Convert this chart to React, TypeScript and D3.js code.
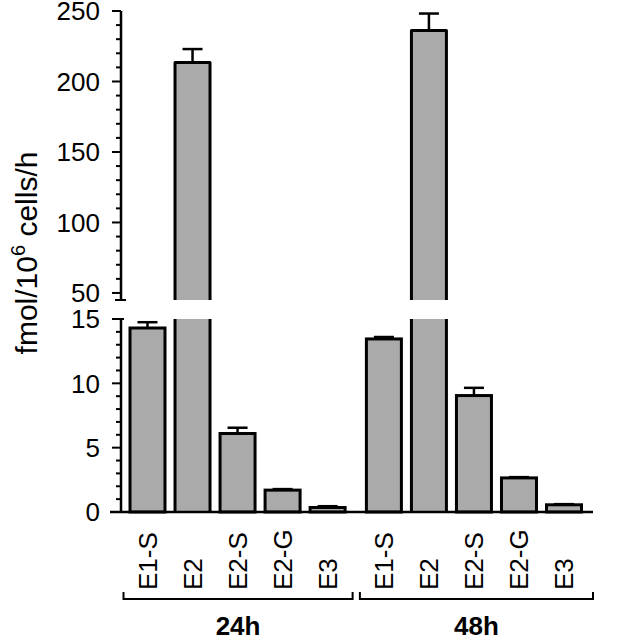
import * as d3 from "d3";
import React, { useRef, useEffect } from "react";

const categories = ["E1-S", "E2", "E2-S", "E2-G", "E3"];
const groups = ["24h", "48h"];
const values24 = [14.3, 213.5, 6.1, 1.7, 0.35];
const errors24 = [0.45, 9.5, 0.45, 0.08, 0.1];
const values48 = [13.45, 236.2, 9.05, 2.65, 0.56];
const errors48 = [0.15, 12, 0.6, 0.06, 0.05];
const upperTicks = [50, 100, 150, 200, 250];
const lowerTicks = [0, 5, 10, 15];

const WIDTH = 633;
const HEIGHT = 639;
const FONT = "'Liberation Sans', Arial, sans-serif";

const App = () => {
	const svgRef = useRef(null);

	useEffect(() => {
		const svg = d3.select(svgRef.current);
		svg.selectAll("*").remove();

		const axisX = 121;
		const breakLimit = 15; // values above this go to the upper panel

		const yLow = d3.scaleLinear().domain([0, 15]).range([512, 319]);
		const yHigh = d3.scaleLinear().domain([45, 250]).range([300, 11]);

		// bar slots, second group shifted a bit to the right
		const xPos = d3.scaleLinear().domain([0, 9.25]).range([147.5, 564]);
		const barW = 35;
		const capW = 20;

		const data = [];
		groups.forEach((g, gi) => {
			const vals = gi === 0 ? values24 : values48;
			const errs = gi === 0 ? errors24 : errors48;
			categories.forEach((c, ci) => {
				data.push({ group: g, cat: c, value: vals[ci], err: errs[ci], slot: gi * 5 + ci + gi * 0.25 });
			});
		});

		// y axes
		const drawAxis = (scale, ticks, minorStep) => {
			const [d0, d1] = scale.domain();
			const ax = svg.append("g");
			ax.append("line")
				.attr("x1", axisX).attr("x2", axisX)
				.attr("y1", scale(d0)).attr("y2", scale(d1))
				.attr("stroke", "#000").attr("stroke-width", 2.5);
			d3.range(Math.ceil(d0 / minorStep) * minorStep, d1 + 0.001, minorStep).forEach((v) => {
				const major = ticks.includes(v);
				ax.append("line")
					.attr("x1", axisX - (major ? 9 : 5)).attr("x2", axisX)
					.attr("y1", scale(v)).attr("y2", scale(v))
					.attr("stroke", "#000").attr("stroke-width", 2);
			});
			ticks.forEach((v) => {
				ax.append("text")
					.attr("x", axisX - 21).attr("y", scale(v))
					.attr("dy", "0.36em")
					.attr("text-anchor", "end")
					.attr("font-family", FONT).attr("font-size", 26)
					.text(v);
			});
		};
		drawAxis(yHigh, upperTicks, 10);
		drawAxis(yLow, lowerTicks, 1);

		// small caps at the break
		svg.append("line")
			.attr("x1", axisX - 6).attr("x2", axisX + 5)
			.attr("y1", yHigh(45)).attr("y2", yHigh(45))
			.attr("stroke", "#000").attr("stroke-width", 2);
		svg.append("line")
			.attr("x1", axisX).attr("x2", axisX + 3)
			.attr("y1", yLow(15)).attr("y2", yLow(15))
			.attr("stroke", "#000").attr("stroke-width", 2);

		// bars
		const bars = svg.append("g");
		data.forEach((d) => {
			const cx = xPos(d.slot);
			const x0 = cx - barW / 2;
			const x1 = cx + barW / 2;
			if (d.value <= breakLimit) {
				bars.append("rect")
					.attr("x", x0).attr("y", yLow(d.value))
					.attr("width", barW).attr("height", yLow(0) - yLow(d.value))
					.attr("fill", "#aaaaaa").attr("stroke", "#000").attr("stroke-width", 3);
			} else {
				bars.append("rect")
					.attr("x", x0).attr("y", yLow(15))
					.attr("width", barW).attr("height", yLow(0) - yLow(15))
					.attr("fill", "#aaaaaa");
				bars.append("path")
					.attr("d", `M${x0},${yLow(0)}V${yLow(15)}M${x1},${yLow(0)}V${yLow(15)}`)
					.attr("fill", "none").attr("stroke", "#000").attr("stroke-width", 3);
				bars.append("rect")
					.attr("x", x0).attr("y", yHigh(d.value))
					.attr("width", barW).attr("height", yHigh(45) - yHigh(d.value))
					.attr("fill", "#aaaaaa");
				bars.append("path")
					.attr("d", `M${x0},${yHigh(45)}V${yHigh(d.value)}H${x1}V${yHigh(45)}`)
					.attr("fill", "none").attr("stroke", "#000").attr("stroke-width", 3).attr("stroke-linejoin", "round");
			}
			// error bar
			const sc = d.value <= breakLimit ? yLow : yHigh;
			const yTop = sc(d.value + d.err);
			bars.append("line")
				.attr("x1", cx).attr("x2", cx)
				.attr("y1", sc(d.value)).attr("y2", yTop)
				.attr("stroke", "#000").attr("stroke-width", 2.5);
			bars.append("line")
				.attr("x1", cx - capW / 2).attr("x2", cx + capW / 2)
				.attr("y1", yTop).attr("y2", yTop)
				.attr("stroke", "#000").attr("stroke-width", 2.5);
		});

		// x baseline
		svg.append("line")
			.attr("x1", 110).attr("x2", 593)
			.attr("y1", yLow(0)).attr("y2", yLow(0))
			.attr("stroke", "#000").attr("stroke-width", 2.5);

		// category labels
		data.forEach((d) => {
			const cx = xPos(d.slot);
			svg.append("text")
				.attr("transform", `translate(${cx + 9},590) rotate(-90)`)
				.attr("font-family", FONT).attr("font-size", 26)
				.text(d.cat);
		});

		// group brackets
		groups.forEach((g, gi) => {
			const first = xPos(gi * 5.25);
			const last = xPos(gi * 5.25 + 4);
			const left = first - 24;
			const right = gi === 0 ? last + 25 : last + 29;
			svg.append("path")
				.attr("d", `M${left},592V599H${right}V592`)
				.attr("fill", "none").attr("stroke", "#000").attr("stroke-width", 2);
			svg.append("text")
				.attr("x", (left + right) / 2).attr("y", 635)
				.attr("text-anchor", "middle")
				.attr("font-family", FONT).attr("font-size", 26).attr("font-weight", "bold")
				.text(g);
		});

		// y label
		const yl = svg.append("text")
			.attr("transform", "translate(37,253) rotate(-90)")
			.attr("text-anchor", "middle")
			.attr("font-family", FONT).attr("font-size", 30);
		yl.append("tspan").text("fmol/10");
		yl.append("tspan").attr("font-size", 20).attr("dy", -12).text("6");
		yl.append("tspan").attr("dy", 12).text(" cells/h");
	}, []);

	return (
		<svg
			ref={svgRef}
			width={WIDTH}
			height={HEIGHT}
			viewBox={`0 0 ${WIDTH} ${HEIGHT}`}
			style={{ position: "absolute", left: 0, top: 0, background: "#fff" }}
		/>
	);
};

export default App;
